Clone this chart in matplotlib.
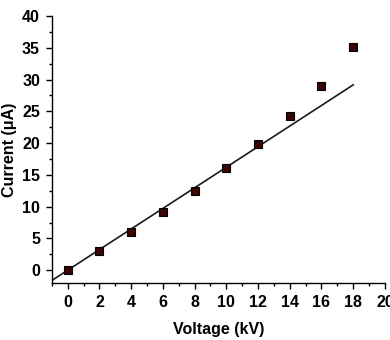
import numpy as np
import matplotlib.pyplot as plt
from matplotlib.ticker import MultipleLocator

# data
voltage = [0, 2, 4, 6, 8, 10, 12, 14, 16, 18]
current = [0, 3.0, 6.0, 9.1, 12.4, 16.0, 19.9, 24.3, 29.0, 35.1]
fit_slope = 1.62
fit_range = [-1, 18]

plt.rcParams['font.family'] = ['Liberation Sans', 'DejaVu Sans']
plt.rcParams['font.weight'] = 'bold'

fig = plt.figure(figsize=(3.9, 3.4), dpi=100)
ax = fig.add_axes([0.133, 0.168, 0.854, 0.785])

xf = np.array(fit_range)
ax.plot(xf, fit_slope * xf, color='#1a1a1a', lw=1.2)
ax.plot(voltage, current, 's', ms=5.8, mfc='#3a0505', mec='black', mew=0.8)

ax.set_xlim(-1, 20)
ax.set_ylim(-2, 40)
ax.xaxis.set_major_locator(MultipleLocator(2))
ax.xaxis.set_minor_locator(MultipleLocator(1))
ax.yaxis.set_major_locator(MultipleLocator(5))
ax.yaxis.set_minor_locator(MultipleLocator(2.5))
ax.tick_params(which='major', direction='out', length=4.5, width=1, labelsize=11.5, pad=4)
ax.tick_params(which='minor', direction='out', length=2.5, width=1)
for s in ['top', 'right']:
    ax.spines[s].set_visible(False)
for s in ['left', 'bottom']:
    ax.spines[s].set_linewidth(1)

ax.set_xlabel('Voltage (kV)', fontsize=11.5, fontweight='bold', labelpad=9)
ax.set_ylabel('Current (\u03bcA)', fontsize=11.5, fontweight='bold')
ax.yaxis.set_label_coords(-0.105, 0.5)

fig.savefig('out.png', dpi=100)
